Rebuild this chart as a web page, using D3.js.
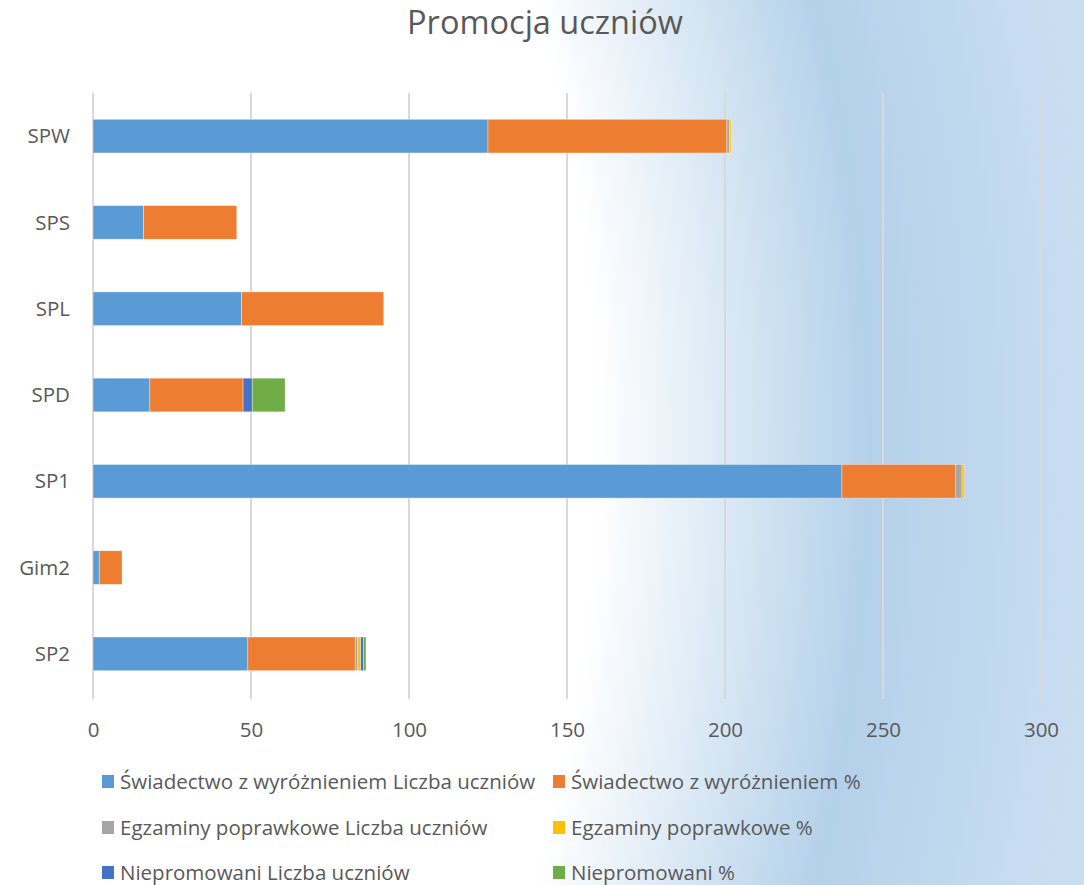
<!DOCTYPE html>
<html>
<head>
<meta charset="utf-8">
<script src="https://cdn.jsdelivr.net/npm/d3@7"></script>
<style>
  body { margin: 0; }
  svg text { font-family: "Open Sans", sans-serif; fill: #595959; }
</style>
</head>
<body>
<div id="chart"></div>
<script>
// categories, top to bottom
const categories = ["SPW", "SPS", "SPL", "SPD", "SP1", "Gim2", "SP2"];

const seriesNames = [
  "Świadectwo z wyróżnieniem Liczba uczniów",
  "Świadectwo z wyróżnieniem %",
  "Egzaminy poprawkowe Liczba uczniów",
  "Egzaminy poprawkowe %",
  "Niepromowani Liczba uczniów",
  "Niepromowani %"
];
const seriesColors = ["#5b9bd5", "#ed7d31", "#a5a5a5", "#ffc000", "#4472c4", "#70ad47"];

// values per series, same order as categories
const wyrLiczba   = [125, 16, 47, 18, 237, 2, 49];
const wyrProc     = [75.6, 29.5, 45, 29.5, 36, 7.2, 34];
const egzLiczba   = [0.8, 0, 0, 0, 2, 0, 0.8];
const egzProc     = [0.5, 0, 0, 0, 0.7, 0, 0.9];
const niepLiczba  = [0, 0, 0, 2.9, 0, 0, 0.9];
const niepProc    = [0, 0, 0, 10.4, 0, 0, 0.8];

const xTicks = [0, 50, 100, 150, 200, 250, 300];

const width = 1084, height = 885;
const margin = {left: 93, right: 43, top: 93, bottom: 188};

const svg = d3.select("#chart").append("svg")
  .attr("width", width).attr("height", height);

// background gradient
const defs = svg.append("defs");
const grad = defs.append("radialGradient")
  .attr("id", "bg")
  .attr("gradientUnits", "userSpaceOnUse")
  .attr("cx", -1000).attr("cy", 442).attr("r", 2100);
grad.append("stop").attr("offset", 0.76).attr("stop-color", "#ffffff");
grad.append("stop").attr("offset", 0.89).attr("stop-color", "#b4d1ea");
grad.append("stop").attr("offset", 1).attr("stop-color", "#cadef1");
svg.append("rect").attr("width", width).attr("height", height).attr("fill", "url(#bg)");

// title
svg.append("text")
  .attr("x", width / 2 + 3).attr("y", 34)
  .attr("text-anchor", "middle")
  .style("font-size", "32.5px")
  .text("Promocja uczniów");

const x = d3.scaleLinear().domain([0, 300]).range([margin.left, width - margin.right]);
const y = d3.scaleBand().domain(categories)
  .range([margin.top, height - margin.bottom])
  .paddingInner(0.61).paddingOuter(0.305);

// gridlines
svg.append("g").selectAll("line")
  .data(xTicks).join("line")
  .attr("x1", d => x(d)).attr("x2", d => x(d))
  .attr("y1", margin.top).attr("y2", height - margin.bottom + 2)
  .attr("stroke", "#d9d9d9").attr("stroke-width", 2);

// stacked bars
const table = categories.map((c, i) => ({
  cat: c, s0: wyrLiczba[i], s1: wyrProc[i], s2: egzLiczba[i],
  s3: egzProc[i], s4: niepLiczba[i], s5: niepProc[i]
}));
const stack = d3.stack().keys(["s0", "s1", "s2", "s3", "s4", "s5"]);
const layers = stack(table);

svg.append("g").selectAll("g")
  .data(layers).join("g")
  .attr("fill", (d, i) => seriesColors[i])
  .selectAll("rect")
  .data(d => d.filter(p => p[1] > p[0])).join("rect")
  .attr("x", d => x(d[0]))
  .attr("width", d => x(d[1]) - x(d[0]))
  .attr("y", d => y(d.data.cat))
  .attr("height", y.bandwidth())
  .attr("stroke", "#ffffff").attr("stroke-opacity", 0.45).attr("stroke-width", 0.8);

// category labels
svg.append("g").selectAll("text")
  .data(categories).join("text")
  .attr("x", 70)
  .attr("y", d => y(d) + y.bandwidth() / 2)
  .attr("dy", "0.35em")
  .attr("text-anchor", "end")
  .style("font-size", "20.5px")
  .text(d => d);

// x axis labels
const xAxis = d3.axisBottom(x).tickValues(xTicks).tickSize(0).tickPadding(25);
const gx = svg.append("g")
  .attr("transform", "translate(0," + (height - margin.bottom) + ")")
  .call(xAxis);
gx.select(".domain").remove();
gx.selectAll("text").style("font-size", "20.5px").style("font-family", "'Open Sans', sans-serif").attr("fill", "#595959");

// legend
const legendPos = [[106, 782], [557, 782], [106, 828], [557, 828], [106, 873], [557, 873]];
const legend = svg.append("g").selectAll("g")
  .data(seriesNames).join("g")
  .attr("transform", (d, i) => "translate(" + legendPos[i][0] + "," + legendPos[i][1] + ")");
legend.append("rect")
  .attr("x", -4).attr("y", -7).attr("width", 12).attr("height", 13)
  .attr("fill", (d, i) => seriesColors[i]);
legend.append("text")
  .attr("x", 14).attr("dy", "0.35em")
  .style("font-size", "20.5px")
  .text(d => d);
</script>
</body>
</html>
